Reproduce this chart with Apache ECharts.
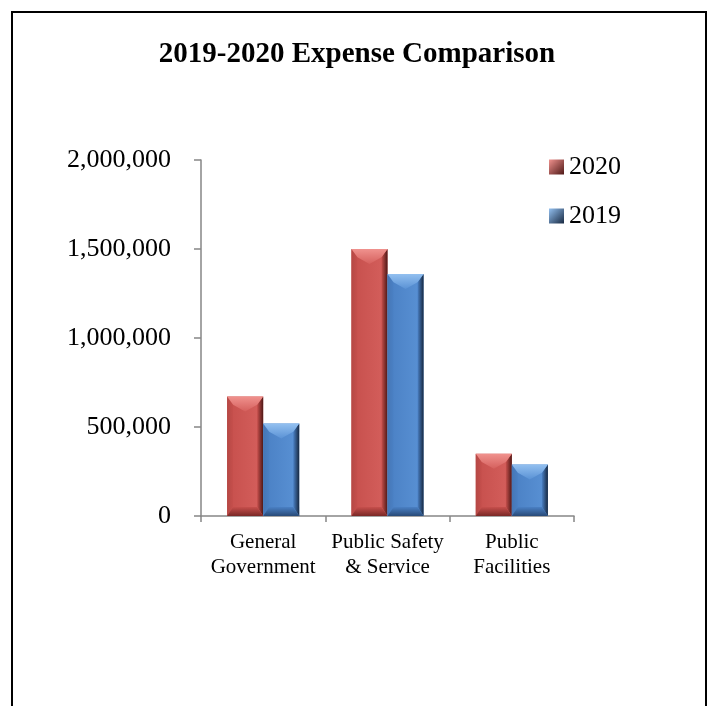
<!DOCTYPE html>
<html>
<head>
<meta charset="utf-8">
<script src="https://cdn.jsdelivr.net/npm/echarts@6/dist/echarts.min.js"></script>
<style>
  html, body { margin: 0; padding: 0; background: #ffffff; }
  #chart { width: 714px; height: 706px; }
</style>
</head>
<body>
<div id="chart"></div>
<script>
// Expense categories and yearly totals
const categories = ['General\nGovernment', 'Public Safety\n& Service', 'Public\nFacilities'];
const years = ['2020', '2019'];
const expenses2020 = [672000, 1500000, 350000];
const expenses2019 = [519000, 1360000, 290000];
const yTickValues = [0, 500000, 1000000, 1500000, 2000000];

const serifFont = "'Liberation Serif', 'Times New Roman', serif";

// Face / bevel shades for each series
const palettes = {
  '2020': { face: '#c64f4c', faceLight: '#d5605d', top: '#f0928e', left: '#b54845', right: '#4e1816', bottom: '#7a2826' },
  '2019': { face: '#4a80c4', faceLight: '#5a92d5', top: '#93c0f0', left: '#4677b6', right: '#172840', bottom: '#284a78' }
};

function grad(x0, y0, x1, y1, c0, c1) {
  return new echarts.graphic.LinearGradient(x0, y0, x1, y1, [
    { offset: 0, color: c0 },
    { offset: 1, color: c1 }
  ]);
}

// Beveled bar drawn from the axis scales: slot 0 sits left of the category centre, slot 1 right of it
function bevelBar(slot, pal) {
  return function (params, api) {
    const cat = api.value(0);
    const val = api.value(1);
    const base = api.coord([cat, 0]);
    const peak = api.coord([cat, val]);
    const band = api.size([1, 0])[0];
    const w = band * 0.29;
    const x0 = base[0] - w + slot * w;
    const x1 = x0 + w;
    const xc = (x0 + x1) / 2;
    const y0 = peak[1];
    const y1 = base[1];
    const h = y1 - y0;
    const s = Math.min(6, w / 4);
    const t = Math.min(15, h / 3);
    const b = Math.min(9, h / 4);
    return {
      type: 'group',
      children: [
        {
          type: 'rect',
          shape: { x: x0, y: y0, width: w, height: h },
          style: { fill: grad(0, 0, 1, 0, pal.face, pal.faceLight) }
        },
        {
          type: 'polygon',
          shape: { points: [[x0, y0], [x0 + s, y0 + t * 0.55], [x0 + s, y1 - b], [x0, y1]] },
          style: { fill: grad(0, 0, 1, 0, pal.left, pal.face) }
        },
        {
          type: 'polygon',
          shape: { points: [[x1, y0], [x1, y1], [x1 - s, y1 - b], [x1 - s, y0 + t * 0.55]] },
          style: { fill: grad(0, 0, 1, 0, pal.face, pal.right) }
        },
        {
          type: 'polygon',
          shape: { points: [[x0, y1], [x0 + s, y1 - b], [x1 - s, y1 - b], [x1, y1]] },
          style: { fill: grad(0, 0, 0, 1, pal.face, pal.bottom) }
        },
        {
          type: 'polygon',
          shape: { points: [[x0, y0], [x1, y0], [x1 - s, y0 + t * 0.55], [xc, y0 + t], [x0 + s, y0 + t * 0.55]] },
          style: { fill: grad(0, 0, 0, 1, pal.top, pal.faceLight) }
        }
      ]
    };
  };
}

function toPoints(values) {
  return values.map((v, i) => [i, v]);
}

const chart = echarts.init(document.getElementById('chart'), null, { renderer: 'canvas' });

chart.setOption({
  backgroundColor: '#ffffff',
  animation: false,
  title: {
    text: '2019-2020 Expense Comparison',
    left: 'center',
    top: 35,
    textStyle: { fontFamily: serifFont, fontSize: 29, fontWeight: 'bold', color: '#000000' }
  },
  graphic: [
    {
      type: 'rect',
      shape: { x: 12, y: 12, width: 694, height: 720 },
      style: { fill: 'none', stroke: '#000000', lineWidth: 2 },
      silent: true
    }
  ],
  legend: {
    orient: 'vertical',
    left: 544,
    top: 149,
    itemWidth: 15,
    itemHeight: 15,
    itemGap: 23,
    icon: 'rect',
    textStyle: { fontFamily: serifFont, fontSize: 26, color: '#000000', padding: [0, 0, 0, 0] },
    data: years.map(y => ({
      name: y,
      itemStyle: { color: grad(0, 0, 1, 1, palettes[y].top, palettes[y].right) }
    }))
  },
  grid: { left: 201, right: 140, top: 160, bottom: 190, containLabel: false },
  xAxis: {
    type: 'category',
    data: categories,
    boundaryGap: true,
    axisLine: { lineStyle: { color: '#868686', width: 1.5 } },
    axisTick: { show: true, length: 6, alignWithLabel: false, lineStyle: { color: '#868686', width: 1.5 } },
    axisLabel: {
      interval: 0,
      margin: 14,
      fontFamily: serifFont,
      fontSize: 21,
      lineHeight: 25,
      color: '#000000',
      align: 'center'
    }
  },
  yAxis: {
    type: 'value',
    min: yTickValues[0],
    max: yTickValues[yTickValues.length - 1],
    interval: yTickValues[1] - yTickValues[0],
    axisLine: { show: true, lineStyle: { color: '#868686', width: 1.5 } },
    axisTick: { show: true, length: 7, lineStyle: { color: '#868686', width: 1.5 } },
    splitLine: { show: false },
    axisLabel: {
      margin: 30,
      fontFamily: serifFont,
      fontSize: 26,
      color: '#000000',
      formatter: v => v.toLocaleString('en-US')
    }
  },
  series: [
    {
      name: '2020',
      type: 'custom',
      itemStyle: { color: palettes['2020'].face },
      encode: { x: 0, y: 1 },
      renderItem: bevelBar(0, palettes['2020']),
      data: toPoints(expenses2020)
    },
    {
      name: '2019',
      type: 'custom',
      itemStyle: { color: palettes['2019'].face },
      encode: { x: 0, y: 1 },
      renderItem: bevelBar(1, palettes['2019']),
      data: toPoints(expenses2019)
    }
  ]
});
</script>
</body>
</html>
